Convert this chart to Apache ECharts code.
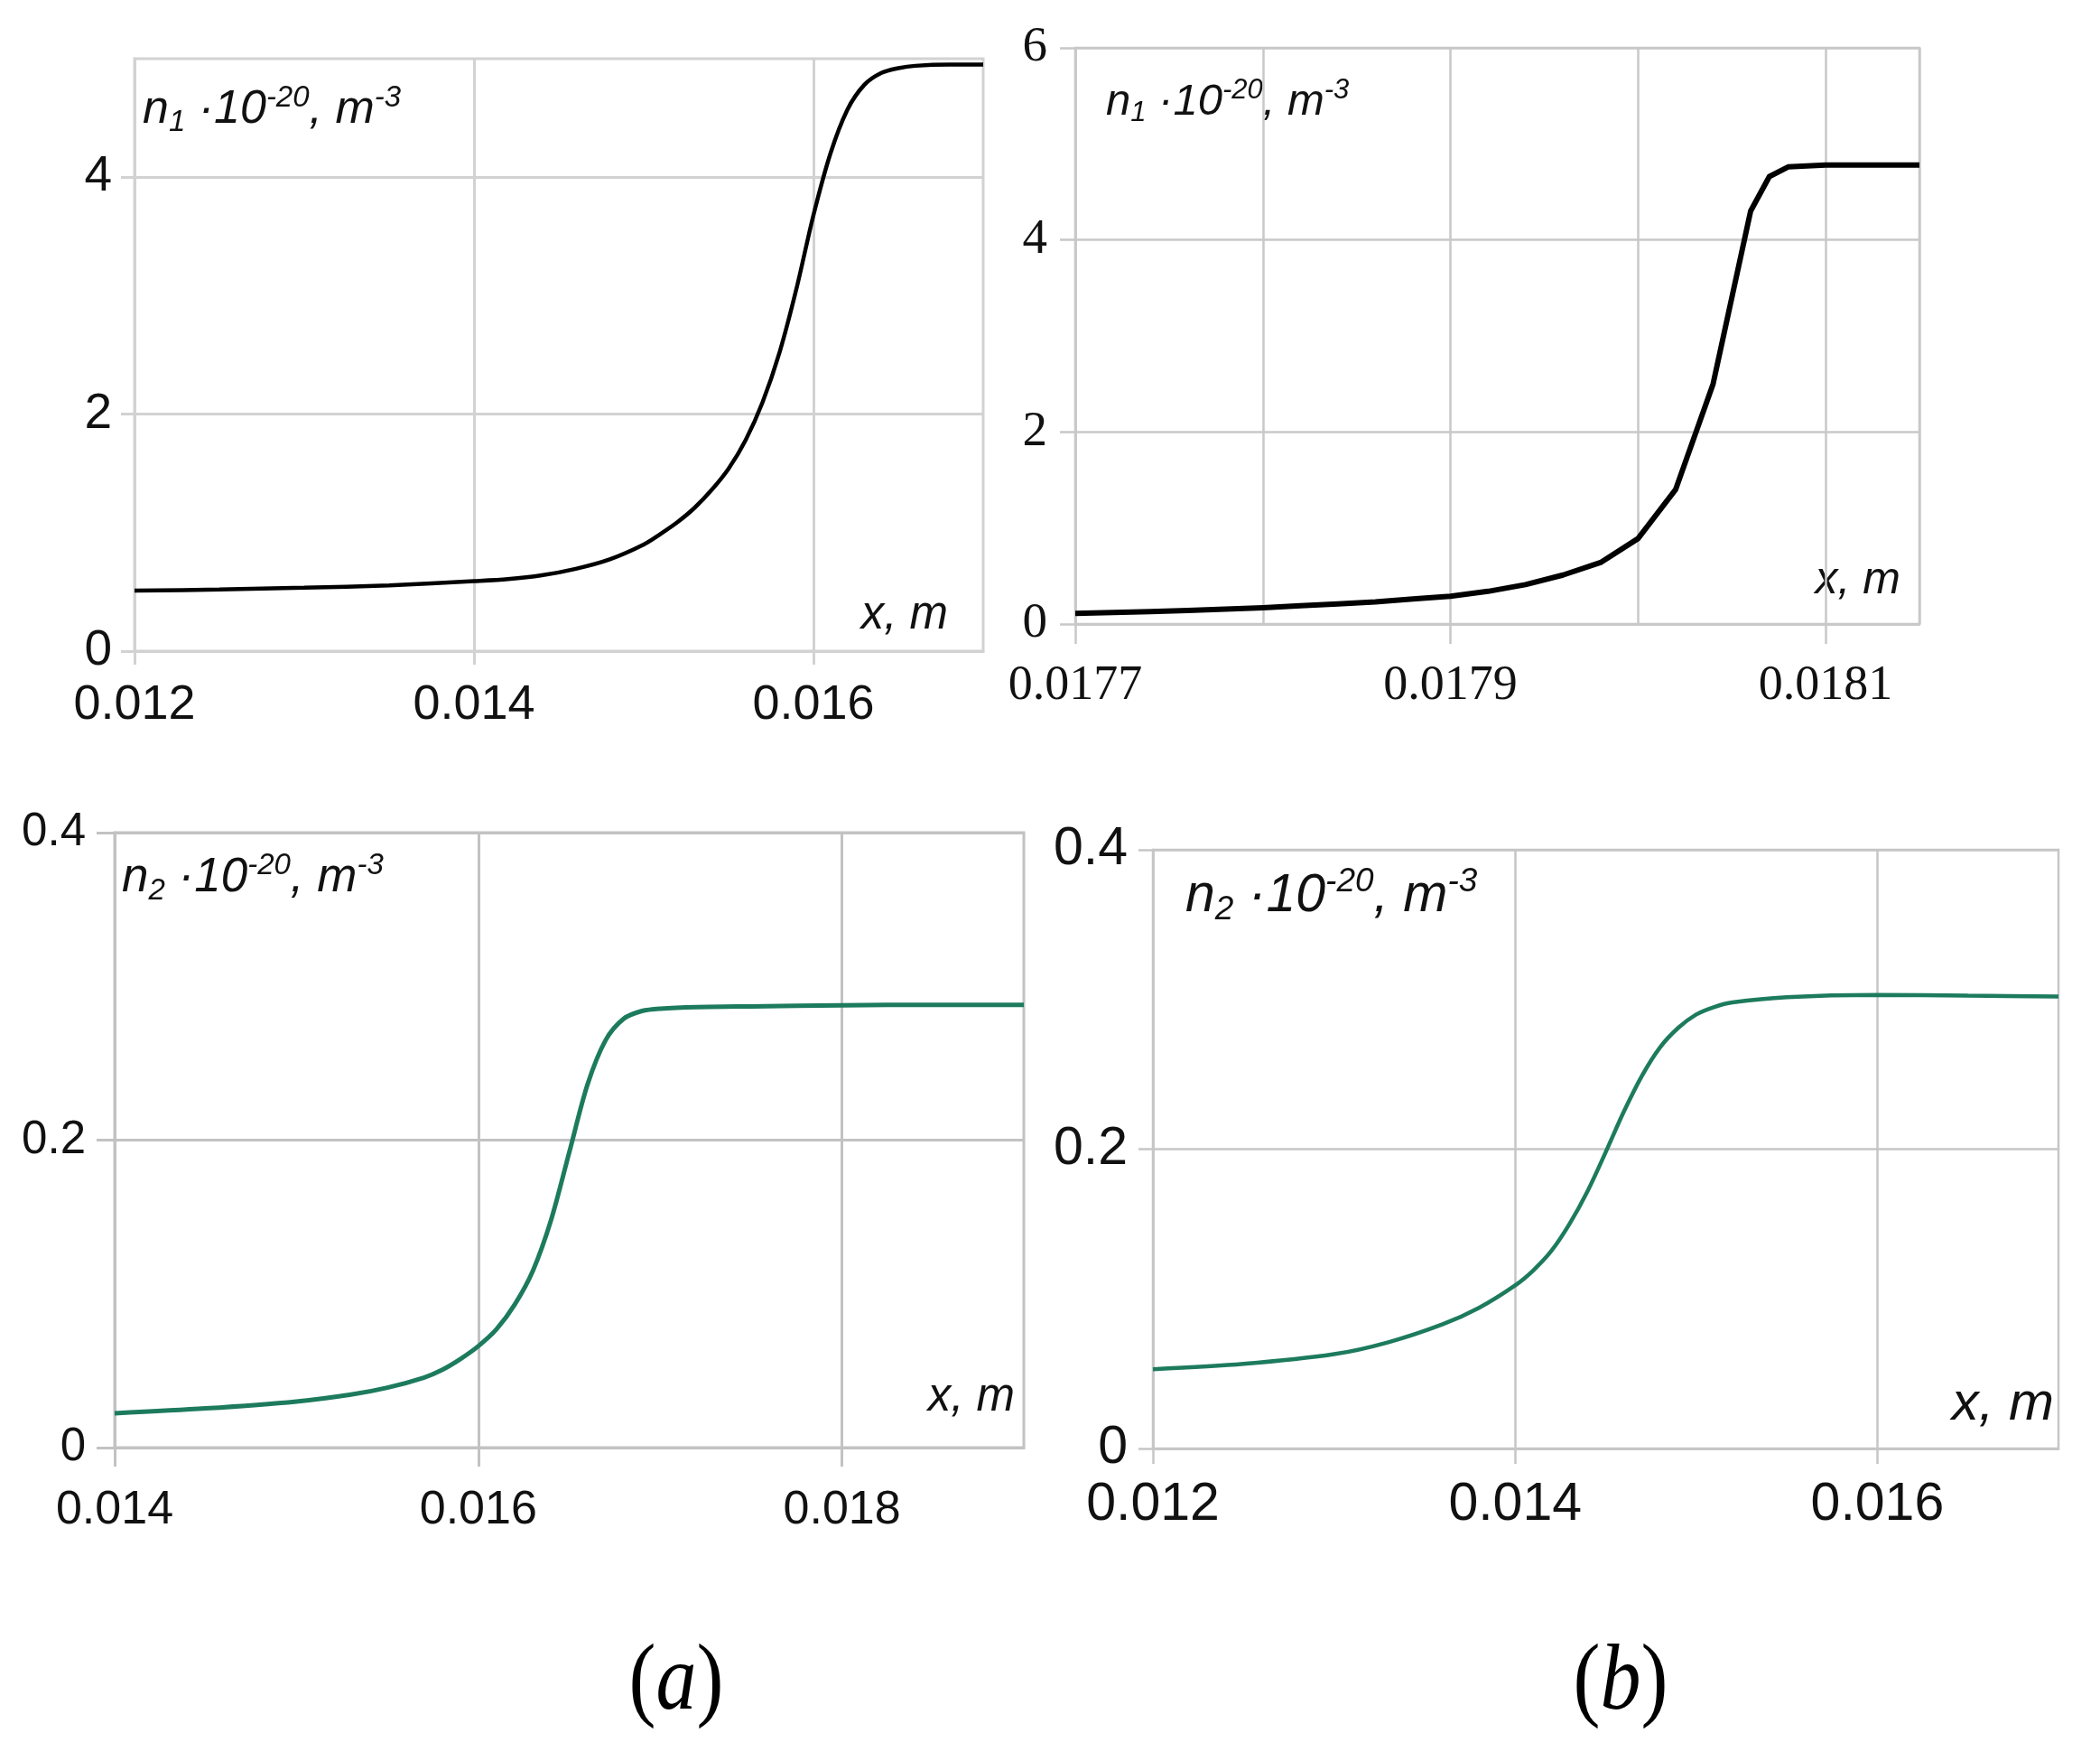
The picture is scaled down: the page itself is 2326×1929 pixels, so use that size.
<!DOCTYPE html>
<html>
<head>
<meta charset="utf-8">
<script src="https://cdn.jsdelivr.net/npm/echarts@6/dist/echarts.min.js"></script>
<style>
  html, body { margin: 0; padding: 0; background: #fff; }
  #chart { width: 2326px; height: 1929px; }
</style>
</head>
<body>
<div id="chart"></div>
<script>
// (a) n1, top left
var n1aX = [0.012, 0.0125, 0.013, 0.0135, 0.014, 0.0142, 0.0144, 0.0146, 0.0148, 0.015, 0.0151, 0.0152, 0.0153,
  0.0154, 0.0155, 0.0156, 0.0157, 0.0158, 0.0159, 0.016, 0.0161, 0.0162, 0.0163, 0.0164, 0.0165, 0.0166, 0.0168, 0.017];
var n1aY = [0.51, 0.52, 0.535, 0.555, 0.59, 0.607, 0.64, 0.695, 0.775, 0.90, 0.99, 1.09, 1.21,
  1.36, 1.54, 1.78, 2.10, 2.52, 3.06, 3.68, 4.20, 4.57, 4.78, 4.88, 4.92, 4.94, 4.95, 4.95];

// (b) n1, top right
var n1bX = [0.0177, 0.01772, 0.01774, 0.01776, 0.01778, 0.0178, 0.01782, 0.01784, 0.01786, 0.01788, 0.0179,
  0.01792, 0.01794, 0.01796, 0.01798, 0.018, 0.01802, 0.01804, 0.01806, 0.01807, 0.01808, 0.0181, 0.01812, 0.01815];
var n1bY = [0.11, 0.12, 0.13, 0.14, 0.155, 0.17, 0.19, 0.21, 0.23, 0.26, 0.29,
  0.34, 0.41, 0.51, 0.64, 0.89, 1.40, 2.50, 4.30, 4.66, 4.76, 4.78, 4.78, 4.78];

// (a) n2, bottom left
var n2aX = [0.014, 0.0145, 0.015, 0.0153, 0.0155, 0.0157, 0.0158, 0.0159, 0.016, 0.0161, 0.0162, 0.0163, 0.0164,
  0.0165, 0.0166, 0.0167, 0.0168, 0.0169, 0.017, 0.0172, 0.0175, 0.018, 0.0185, 0.019];
var n2aY = [0.0223, 0.0255, 0.030, 0.0345, 0.039, 0.0455, 0.0505, 0.0575, 0.066, 0.077, 0.093, 0.115, 0.148,
  0.192, 0.236, 0.265, 0.279, 0.284, 0.2855, 0.2865, 0.287, 0.2877, 0.288, 0.288];

// (b) n2, bottom right
var n2bX = [0.012, 0.0125, 0.013, 0.0133, 0.0136, 0.0138, 0.014, 0.0141, 0.0142, 0.0143, 0.0144, 0.0145, 0.0146,
  0.0147, 0.0148, 0.0149, 0.015, 0.0151, 0.0152, 0.0155, 0.016, 0.0165, 0.017];
var n2bY = [0.053, 0.0565, 0.063, 0.071, 0.083, 0.094, 0.109, 0.119, 0.132, 0.150, 0.172, 0.198, 0.225,
  0.249, 0.268, 0.281, 0.290, 0.295, 0.298, 0.3015, 0.303, 0.3025, 0.302];

// tick labels
var n1aXTicks = [0.012, 0.014, 0.016];
var n1aYTicks = [0, 2, 4];
var n1bXTicks = [0.0177, 0.0179, 0.0181];
var n2aXTicks = [0.014, 0.016, 0.018];
var n2bXTicks = [0.012, 0.014, 0.016];

var sans = '"Liberation Sans", Arial, sans-serif';
var serif = '"Liberation Serif", "Times New Roman", serif';

function pairs(xs, ys) {
  return xs.map(function (x, i) { return [x, ys[i]]; });
}

// n1 / n2 unit label with sub & superscripts
function unitLabel(left, baseline, fs, idx) {
  var small = Math.round(fs * 0.63);
  var lh = Math.round(fs * 1.15);
  return {
    type: 'text',
    x: left,
    y: baseline - (lh / 2 + 0.3465 * fs),
    style: {
      text: 'n{sub|' + idx + '} \u00b710{sup|-20}, m{sup|-3}',
      fontFamily: sans, fontSize: fs, fontStyle: 'italic', fill: '#111',
      lineHeight: lh, align: 'left', verticalAlign: 'top',
      rich: {
        sub: { fontFamily: sans, fontSize: small, fontStyle: 'italic', verticalAlign: 'bottom', lineHeight: Math.round(fs * 0.73) },
        sup: { fontFamily: sans, fontSize: small, fontStyle: 'italic', verticalAlign: 'top', lineHeight: small }
      }
    }
  };
}

function xmLabel(right, baseline, fs) {
  return {
    type: 'text',
    x: right,
    y: baseline - 0.3465 * fs,
    style: {
      text: 'x, m', fontFamily: sans, fontSize: fs, fontStyle: 'italic', fill: '#111',
      align: 'right', verticalAlign: 'middle'
    }
  };
}

function panelLabel(cx, cy, letter) {
  return {
    type: 'text',
    x: cx,
    y: cy,
    scaleY: 1.15,
    style: {
      text: '({i|' + letter + '})',
      fontFamily: serif, fontSize: 90, fill: '#000',
      align: 'center', verticalAlign: 'middle',
      rich: { i: { fontFamily: serif, fontSize: 90, fontStyle: 'italic' } }
    }
  };
}

var gTL = '#d2d2d2', gTR = '#c8c8c8', gBL = '#c2c2c2', gBR = '#c6c6c6';
var green = '#1d7b5d';

var chart = echarts.init(document.getElementById('chart'));

chart.setOption({
  animation: false,
  backgroundColor: '#fff',
  grid: [
    { left: 149, top: 65, width: 940, height: 656, show: true, borderColor: gTL, borderWidth: 3 },
    { left: 1191, top: 53, width: 935, height: 638, show: true, borderColor: gTR, borderWidth: 2.5 },
    { left: 127, top: 922, width: 1007, height: 681, show: true, borderColor: gBL, borderWidth: 3 },
    { left: 1277, top: 941, width: 1003, height: 663, show: true, borderColor: gBR, borderWidth: 2.5 }
  ],
  xAxis: [
    {
      gridIndex: 0, type: 'value', min: 0.012, max: 0.017, interval: 0.002,
      axisLine: { lineStyle: { color: gTL, width: 3 } },
      axisTick: { length: 15, customValues: n1aXTicks, lineStyle: { color: gTL, width: 3 } },
      axisLabel: { customValues: n1aXTicks, margin: 33, fontFamily: sans, fontSize: 54, color: '#111' },
      splitLine: { show: true, lineStyle: { color: gTL, width: 3 } }
    },
    {
      gridIndex: 1, type: 'value', position: 'bottom', min: 0.0177, max: 0.01815, interval: 0.0002,
      axisLine: { lineStyle: { color: gTR, width: 2.5 } },
      axisTick: { length: 22, customValues: n1bXTicks, lineStyle: { color: gTR, width: 2.5 } },
      axisLabel: { customValues: n1bXTicks, margin: 42, fontFamily: serif, fontSize: 54, color: '#111' },
      splitLine: { show: false }
    },
    {
      // minor grid lines for panel (b) top
      gridIndex: 1, type: 'value', position: 'bottom', min: 0.0177, max: 0.01815, interval: 0.0001,
      axisLine: { show: false }, axisTick: { show: false }, axisLabel: { show: false },
      splitLine: { show: true, lineStyle: { color: gTR, width: 2.5 } }
    },
    {
      gridIndex: 2, type: 'value', min: 0.014, max: 0.019, interval: 0.002,
      axisLine: { lineStyle: { color: gBL, width: 3 } },
      axisTick: { length: 21, customValues: n2aXTicks, lineStyle: { color: gBL, width: 3 } },
      axisLabel: { customValues: n2aXTicks, margin: 44, fontFamily: sans, fontSize: 52, color: '#111' },
      splitLine: { show: true, lineStyle: { color: gBL, width: 3 } }
    },
    {
      gridIndex: 3, type: 'value', min: 0.012, max: 0.017, interval: 0.002,
      axisLine: { lineStyle: { color: gBR, width: 2.5 } },
      axisTick: { length: 17, customValues: n2bXTicks, lineStyle: { color: gBR, width: 2.5 } },
      axisLabel: { customValues: n2bXTicks, margin: 33, fontFamily: sans, fontSize: 59, color: '#111' },
      splitLine: { show: true, lineStyle: { color: gBR, width: 2.5 } }
    }
  ],
  yAxis: [
    {
      gridIndex: 0, type: 'value', min: 0, max: 5, interval: 2,
      axisLine: { show: true, lineStyle: { color: gTL, width: 3 } },
      axisTick: { show: true, length: 15, customValues: n1aYTicks, lineStyle: { color: gTL, width: 3 } },
      axisLabel: { customValues: n1aYTicks, margin: 25, fontFamily: sans, fontSize: 55, color: '#111' },
      splitLine: { show: true, lineStyle: { color: gTL, width: 3 } }
    },
    {
      gridIndex: 1, type: 'value', min: 0, max: 6, interval: 2,
      axisLine: { show: true, lineStyle: { color: gTR, width: 2.5 } },
      axisTick: { show: true, length: 17, lineStyle: { color: gTR, width: 2.5 } },
      axisLabel: { margin: 31, fontFamily: serif, fontSize: 55, color: '#111' },
      splitLine: { show: true, lineStyle: { color: gTR, width: 2.5 } }
    },
    {
      gridIndex: 2, type: 'value', min: 0, max: 0.4, interval: 0.2,
      axisLine: { show: true, lineStyle: { color: gBL, width: 3 } },
      axisTick: { show: true, length: 20, lineStyle: { color: gBL, width: 3 } },
      axisLabel: { margin: 32, fontFamily: sans, fontSize: 51, color: '#111' },
      splitLine: { show: true, lineStyle: { color: gBL, width: 3 } }
    },
    {
      gridIndex: 3, type: 'value', min: 0, max: 0.4, interval: 0.2,
      axisLine: { show: true, lineStyle: { color: gBR, width: 2.5 } },
      axisTick: { show: true, length: 16, lineStyle: { color: gBR, width: 2.5 } },
      axisLabel: { margin: 28, fontFamily: sans, fontSize: 59, color: '#111' },
      splitLine: { show: true, lineStyle: { color: gBR, width: 2.5 } }
    }
  ],
  series: [
    {
      type: 'line', xAxisIndex: 0, yAxisIndex: 0, data: pairs(n1aX, n1aY),
      smooth: 0.3, showSymbol: false,
      lineStyle: { color: '#000', width: 4.5 }
    },
    {
      type: 'line', xAxisIndex: 1, yAxisIndex: 1, data: pairs(n1bX, n1bY),
      smooth: false, showSymbol: false,
      lineStyle: { color: '#000', width: 6, join: 'round' }
    },
    {
      type: 'line', xAxisIndex: 3, yAxisIndex: 2, data: pairs(n2aX, n2aY),
      smooth: 0.3, showSymbol: false,
      lineStyle: { color: green, width: 5 }
    },
    {
      type: 'line', xAxisIndex: 4, yAxisIndex: 3, data: pairs(n2bX, n2bY),
      smooth: 0.3, showSymbol: false,
      lineStyle: { color: green, width: 4.5 }
    }
  ],
  graphic: [
    unitLabel(158, 140, 52, 1),
    unitLabel(1225, 130, 49, 1),
    unitLabel(135, 991, 53, 2),
    unitLabel(1313, 1013, 59, 2),
    xmLabel(1050, 699, 51),
    xmLabel(2105, 660, 50),
    xmLabel(1124, 1565, 51),
    xmLabel(2275, 1576, 60),
    panelLabel(749, 1865, 'a'),
    panelLabel(1795, 1865, 'b')
  ]
});
</script>
</body>
</html>
